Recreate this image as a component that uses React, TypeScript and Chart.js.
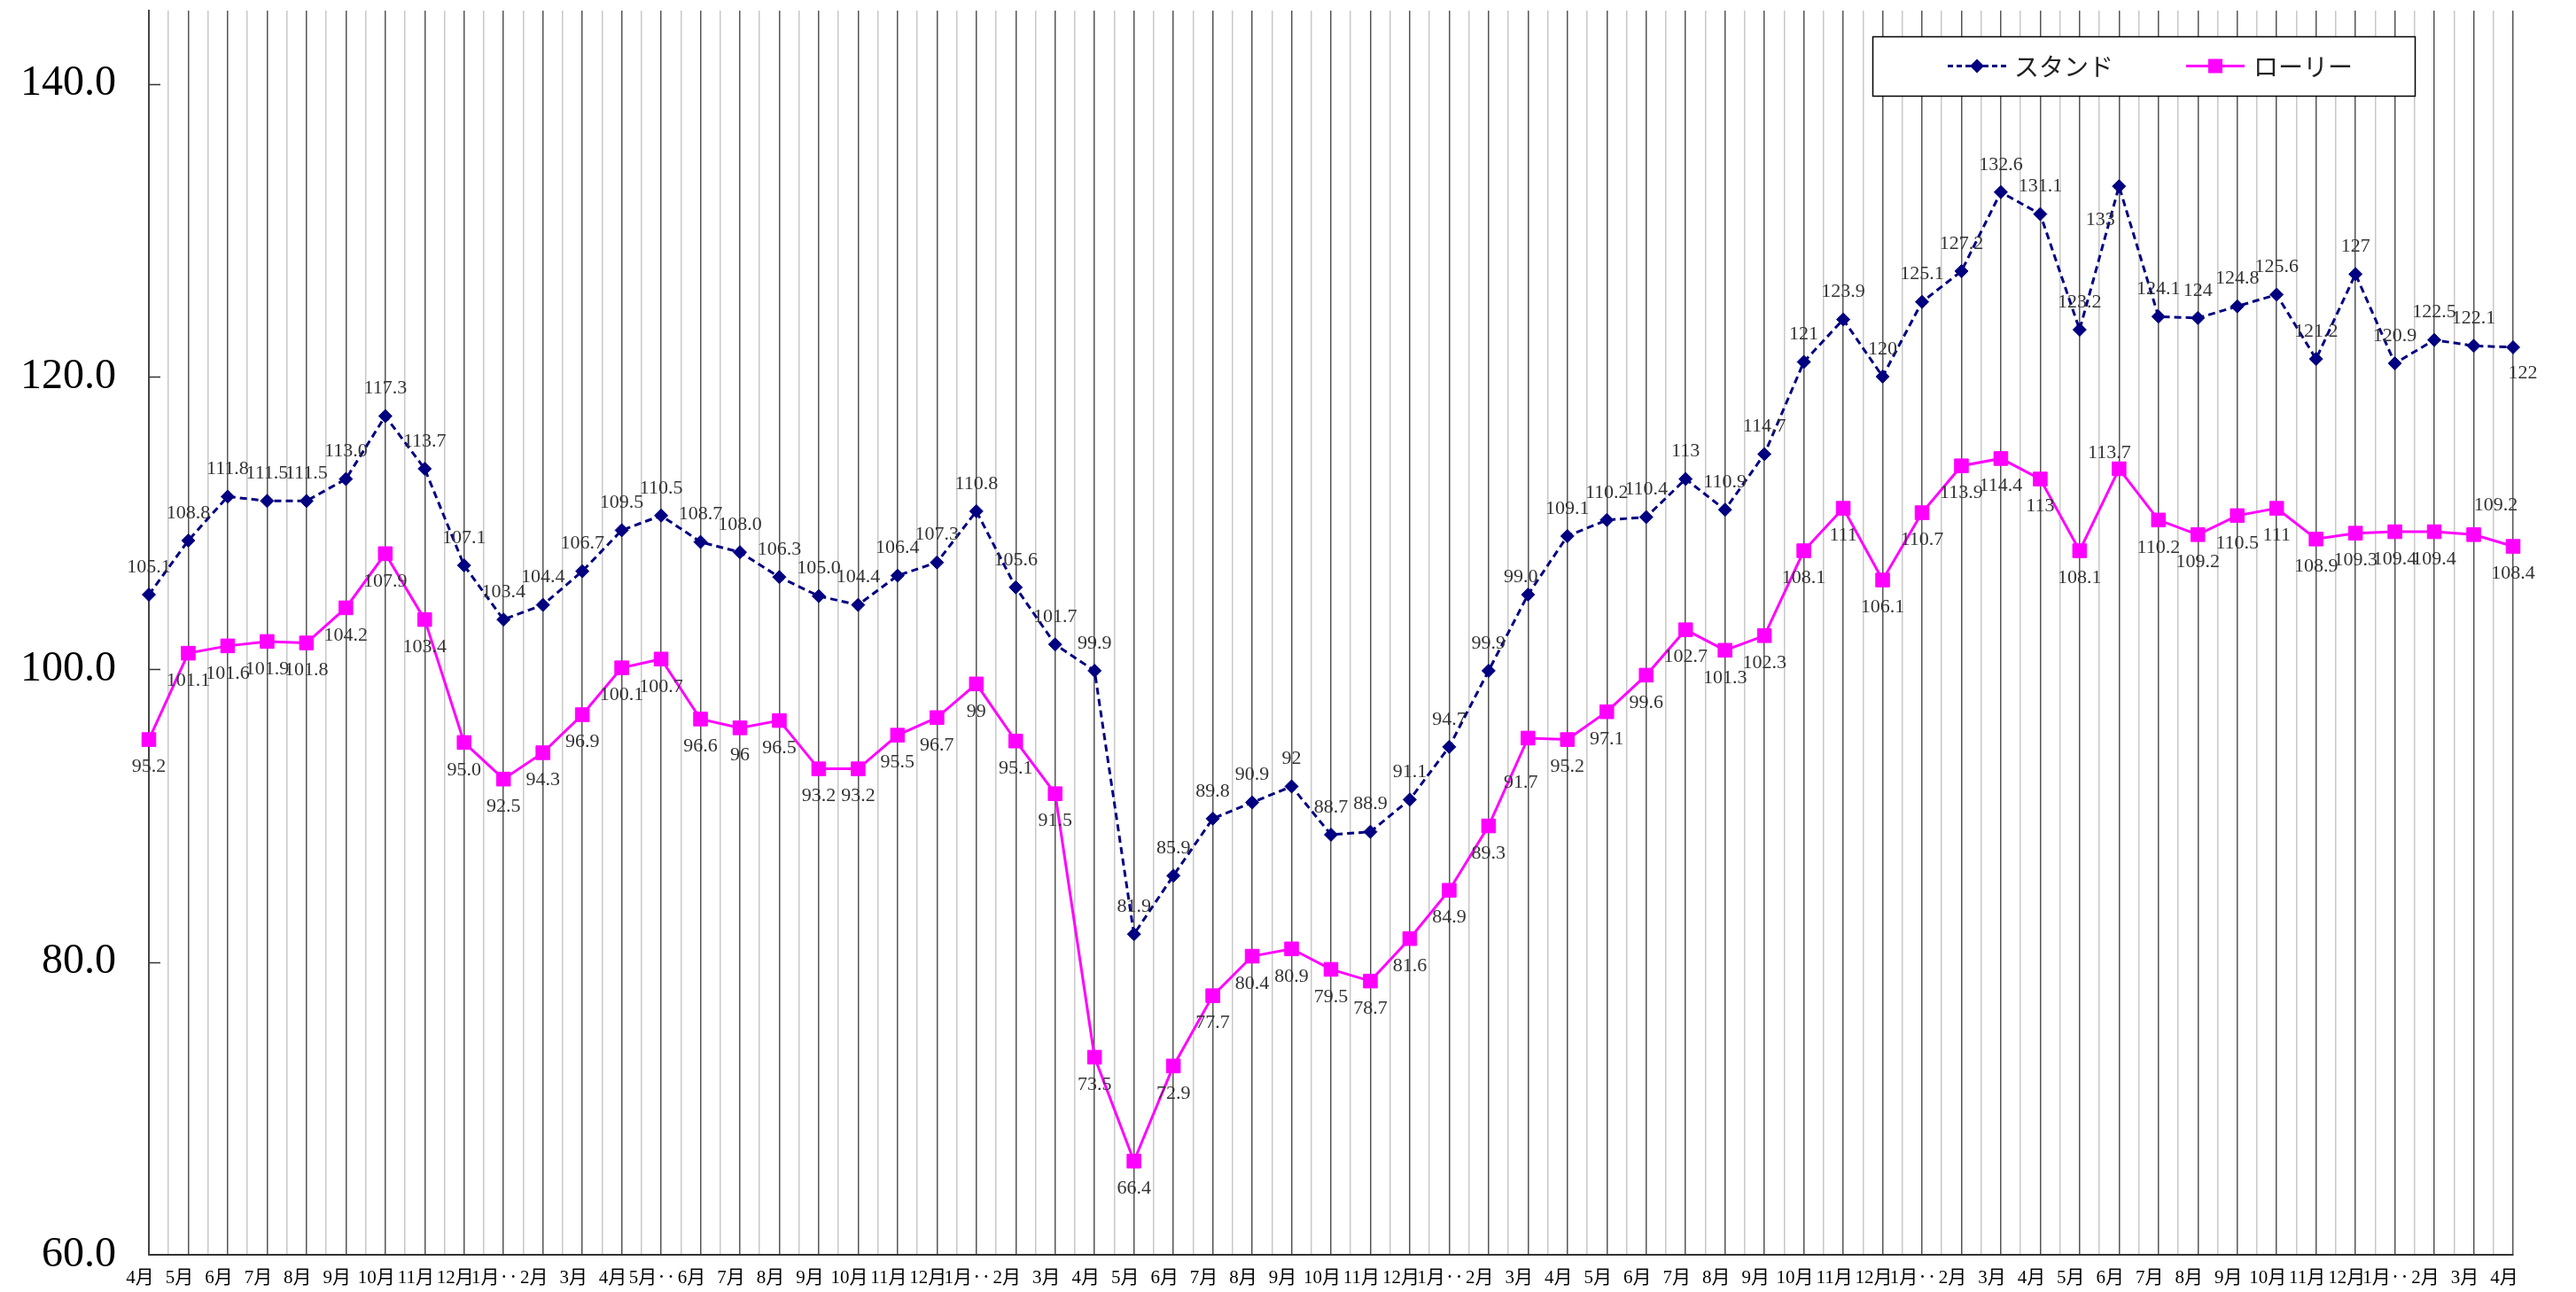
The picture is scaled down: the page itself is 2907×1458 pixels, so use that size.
import React, { useEffect, useRef } from 'react';
import { Chart, registerables } from 'chart.js';

Chart.register(...registerables);

// ---- data ----
const categories = [
  '4月', '5月', '6月', '7月', '8月', '9月', '10月', '11月', '12月', '1月‥', '2月', '3月',
  '4月', '5月‥', '6月', '7月', '8月', '9月', '10月', '11月', '12月', '1月‥', '2月', '3月',
  '4月', '5月', '6月', '7月', '8月', '9月', '10月', '11月', '12月', '1月‥', '2月', '3月',
  '4月', '5月', '6月', '7月', '8月', '9月', '10月', '11月', '12月', '1月‥', '2月', '3月',
  '4月', '5月', '6月', '7月', '8月', '9月', '10月', '11月', '12月', '1月‥', '2月', '3月',
  '4月',
];

const standValues = [
  105.1, 108.8, 111.8, 111.5, 111.5, 113.0, 117.3, 113.7, 107.1, 103.4, 104.4, 106.7,
  109.5, 110.5, 108.7, 108.0, 106.3, 105.0, 104.4, 106.4, 107.3, 110.8, 105.6, 101.7,
  99.9, 81.9, 85.9, 89.8, 90.9, 92.0, 88.7, 88.9, 91.1, 94.7, 99.9, 105.1,
  109.1, 110.2, 110.4, 113.0, 110.9, 114.7, 121.0, 123.9, 120.0, 125.1, 127.2, 132.6,
  131.1, 123.2, 133.0, 124.1, 124.0, 124.8, 125.6, 121.2, 127.0, 120.9, 122.5, 122.1,
  122.0,
];

const lorryValues = [
  95.2, 101.1, 101.6, 101.9, 101.8, 104.2, 107.9, 103.4, 95.0, 92.5, 94.3, 96.9,
  100.1, 100.7, 96.6, 96.0, 96.5, 93.2, 93.2, 95.5, 96.7, 99.0, 95.1, 91.5,
  73.5, 66.4, 72.9, 77.7, 80.4, 80.9, 79.5, 78.7, 81.6, 84.9, 89.3, 95.3,
  95.2, 97.1, 99.6, 102.7, 101.3, 102.3, 108.1, 111.0, 106.1, 110.7, 113.9, 114.4,
  113.0, 108.1, 113.7, 110.2, 109.2, 110.5, 111.0, 108.9, 109.3, 109.4, 109.4, 109.2,
  108.4,
];

const standLabels = [
  '105.1', '108.8', '111.8', '111.5', '111.5', '113.0', '117.3', '113.7', '107.1', '103.4', '104.4', '106.7',
  '109.5', '110.5', '108.7', '108.0', '106.3', '105.0', '104.4', '106.4', '107.3', '110.8', '105.6', '101.7',
  '99.9', '81.9', '85.9', '89.8', '90.9', '92', '88.7', '88.9', '91.1', '94.7', '99.9', '99.0',
  '109.1', '110.2', '110.4', '113', '110.9', '114.7', '121', '123.9', '120', '125.1', '127.2', '132.6',
  '131.1', '123.2', '133', '124.1', '124', '124.8', '125.6', '121.2', '127', '120.9', '122.5', '122.1',
  '122',
];

const lorryLabels = [
  '95.2', '101.1', '101.6', '101.9', '101.8', '104.2', '107.9', '103.4', '95.0', '92.5', '94.3', '96.9',
  '100.1', '100.7', '96.6', '96', '96.5', '93.2', '93.2', '95.5', '96.7', '99', '95.1', '91.5',
  '73.5', '66.4', '72.9', '77.7', '80.4', '80.9', '79.5', '78.7', '81.6', '84.9', '89.3', '91.7',
  '95.2', '97.1', '99.6', '102.7', '101.3', '102.3', '108.1', '111', '106.1', '110.7', '113.9', '114.4',
  '113', '108.1', '113.7', '110.2', '109.2', '110.5', '111', '108.9', '109.3', '109.4', '109.4', '109.2',
  '108.4',
];

const seriesNames = ['スタンド', 'ローリー'];

// ---- styles ----
const STAND_COLOR = '#000080';
const LORRY_COLOR = '#FF00FF';
const SERIF = '"Liberation Serif", "Noto Sans CJK JP", serif';
const CJK = '"Noto Sans CJK JP", "Liberation Serif", sans-serif';

// label placement tweaks (dx, dy) relative to the default placement
const standLabelShift: Record<number, [number, number]> = {
  35: [-8, 11],
  50: [-21, 69],
  60: [11, 60],
};
const lorryLabelShift: Record<number, [number, number]> = {
  35: [-8, 19],
  50: [-11, -49],
  59: [25, -64],
};

const zeroPad = (s: any) => {
  s.paddingTop = 0;
  s.paddingBottom = 0;
  s.paddingLeft = 0;
  s.paddingRight = 0;
};

const yInnerTicks = {
  id: 'yInnerTicks',
  beforeDatasetsDraw(chart: any) {
    const { ctx, chartArea } = chart;
    const y = chart.scales.y;
    ctx.save();
    ctx.strokeStyle = '#333333';
    ctx.lineWidth = 1.5;
    y.ticks.forEach((t: any) => {
      if (t.value <= y.min) return;
      const py = Math.round(y.getPixelForValue(t.value)) + 0.5;
      ctx.beginPath();
      ctx.moveTo(chartArea.left, py);
      ctx.lineTo(chartArea.left + 13, py);
      ctx.stroke();
    });
    ctx.restore();
  },
};

const pointLabels = {
  id: 'pointLabels',
  afterDatasetsDraw(chart: any) {
    const ctx = chart.ctx;
    ctx.save();
    ctx.font = `22px ${SERIF}`;
    ctx.fillStyle = '#333333';
    ctx.textAlign = 'center';
    ctx.textBaseline = 'middle';
    const sets = [
      { meta: chart.getDatasetMeta(0), labels: standLabels, dy: -31, shift: standLabelShift },
      { meta: chart.getDatasetMeta(1), labels: lorryLabels, dy: 31, shift: lorryLabelShift },
    ];
    sets.forEach((s) => {
      s.meta.data.forEach((el: any, i: number) => {
        const sh = s.shift[i] || [0, 0];
        ctx.fillText(s.labels[i], el.x + sh[0], el.y + s.dy + sh[1]);
      });
    });
    ctx.restore();
  },
};

const boxLegend = {
  id: 'boxLegend',
  afterDraw(chart: any) {
    const ctx = chart.ctx;
    const bx = 2113;
    const by = 41;
    const bw = 612;
    const bh = 67;
    const cy = by + bh / 2;
    ctx.save();
    ctx.fillStyle = '#ffffff';
    ctx.fillRect(bx, by, bw, bh);
    ctx.strokeStyle = '#000000';
    ctx.lineWidth = 1.5;
    ctx.strokeRect(bx + 0.5, by + 0.5, bw, bh);

    // stand sample
    ctx.strokeStyle = STAND_COLOR;
    ctx.lineWidth = 3;
    ctx.setLineDash([6, 4]);
    ctx.beginPath();
    ctx.moveTo(2198, cy);
    ctx.lineTo(2264, cy);
    ctx.stroke();
    ctx.setLineDash([]);
    ctx.fillStyle = STAND_COLOR;
    ctx.beginPath();
    ctx.moveTo(2231, cy - 8);
    ctx.lineTo(2239, cy);
    ctx.lineTo(2231, cy + 8);
    ctx.lineTo(2223, cy);
    ctx.closePath();
    ctx.fill();

    // lorry sample
    ctx.strokeStyle = LORRY_COLOR;
    ctx.lineWidth = 3;
    ctx.beginPath();
    ctx.moveTo(2467, cy);
    ctx.lineTo(2533, cy);
    ctx.stroke();
    ctx.fillStyle = LORRY_COLOR;
    ctx.fillRect(2492, cy - 8, 16, 16);

    ctx.fillStyle = '#222222';
    ctx.font = `28px ${CJK}`;
    ctx.textAlign = 'left';
    ctx.textBaseline = 'middle';
    const names = chart.data.datasets.map((d: any) => d.label);
    ctx.fillText(names[0], 2273, cy + 1);
    ctx.fillText(names[1], 2543, cy + 1);
    ctx.restore();
  },
};

export default function App() {
  const ref = useRef<HTMLCanvasElement | null>(null);

  useEffect(() => {
    if (!ref.current) return;
    const chart = new Chart(ref.current, {
      type: 'line',
      data: {
        labels: categories,
        datasets: [
          {
            label: seriesNames[0],
            data: standValues,
            borderColor: STAND_COLOR,
            backgroundColor: STAND_COLOR,
            borderWidth: 3,
            borderDash: [8, 5],
            tension: 0,
            pointStyle: 'rectRot',
            pointRadius: 7.5,
            pointBackgroundColor: STAND_COLOR,
            pointBorderColor: STAND_COLOR,
            pointBorderWidth: 1,
            fill: false,
          },
          {
            label: seriesNames[1],
            data: lorryValues,
            borderColor: LORRY_COLOR,
            backgroundColor: LORRY_COLOR,
            borderWidth: 3,
            tension: 0,
            pointStyle: 'rect',
            pointRadius: 11,
            pointBackgroundColor: LORRY_COLOR,
            pointBorderColor: LORRY_COLOR,
            pointBorderWidth: 1,
            fill: false,
          },
        ],
      },
      options: {
        animation: false,
        responsive: false,
        devicePixelRatio: 1,
        layout: { padding: { top: 5, right: 71, left: 0, bottom: 0 } },
        plugins: {
          legend: { display: false },
          tooltip: { enabled: false },
        },
        scales: {
          x: {
            type: 'category',
            offset: false,
            grid: { color: '#555555', lineWidth: 1.5, drawTicks: false },
            border: { display: true, color: '#333333', width: 2 },
            ticks: {
              autoSkip: false,
              maxRotation: 0,
              minRotation: 0,
              padding: 14,
              labelOffset: -10,
              color: '#000000',
              font: { family: SERIF, size: 21 },
            },
            afterFit: (s: any) => {
              s.height = 42;
              zeroPad(s);
            },
          },
          x2: {
            type: 'category',
            position: 'bottom',
            offset: false,
            grid: { offset: true, color: '#c8c8c8', lineWidth: 1.5, drawTicks: false },
            border: { display: false },
            ticks: { display: false },
            afterFit: (s: any) => {
              s.height = 0;
              zeroPad(s);
            },
          },
          y: {
            type: 'linear',
            min: 60,
            max: 145,
            grid: { display: true, drawOnChartArea: false, drawTicks: false },
            border: { display: true, color: '#444444', width: 2 },
            ticks: {
              stepSize: 20,
              includeBounds: false,
              padding: 37,
              color: '#000000',
              font: { family: SERIF, size: 48 },
              callback: (v: any) => Number(v).toFixed(1),
            },
            afterFit: (s: any) => {
              s.width = 168;
              zeroPad(s);
            },
          },
        },
      } as any,
      plugins: [yInnerTicks, pointLabels, boxLegend],
    });
    return () => chart.destroy();
  }, []);

  return (
    <div
      style={{
        position: 'fixed',
        left: 0,
        top: 0,
        width: 2907,
        height: 1458,
        background: '#ffffff',
      }}
    >
      <canvas ref={ref} width={2907} height={1458} style={{ width: 2907, height: 1458 }} />
    </div>
  );
}
